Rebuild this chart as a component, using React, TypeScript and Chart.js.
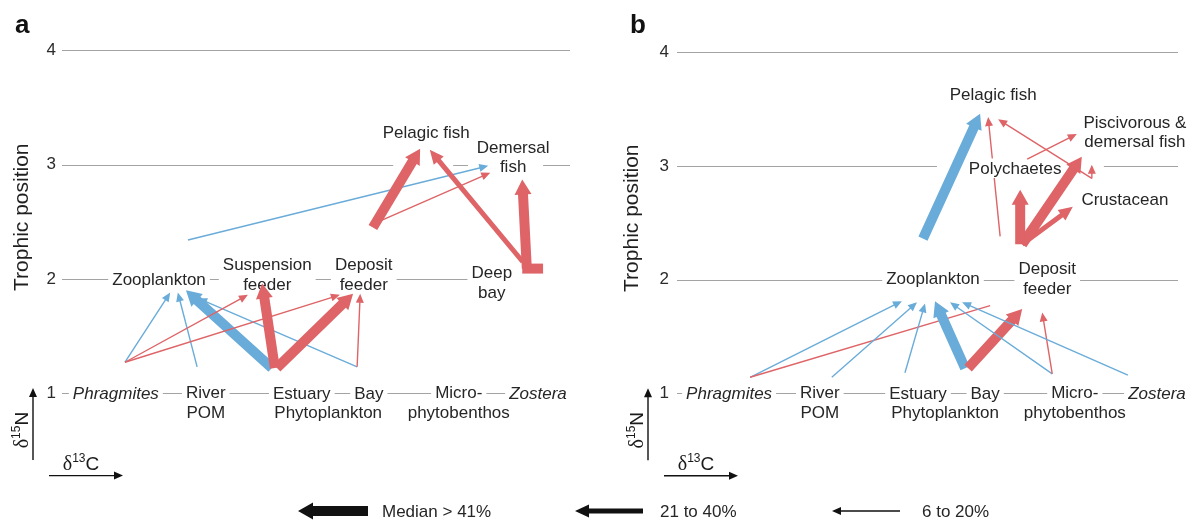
import { useEffect, useRef } from "react";
import { Chart, registerables } from "chart.js";

Chart.register(...registerables);

// ---- food-web values (x: relative δ13C position 0–100, y: trophic position) ----
type Node = { text: string[]; x: number; y: number; italic?: boolean; box?: boolean };
type Flow = {
  from: [number, number];
  to: [number, number];
  share: 1 | 2 | 3; // 1: 6–20 %, 2: 21–40 %, 3: > 41 %
  tone: "b" | "r";
  head?: boolean;
  under?: boolean;
};

const trophicTicks = [1, 2, 3, 4];

const nodesA: Node[] = [
  { text: ["Zooplankton"], x: 19.1, y: 2.0 },
  { text: ["Suspension", "feeder"], x: 40.4, y: 2.04, box: true },
  { text: ["Deposit", "feeder"], x: 59.4, y: 2.04, box: true },
  { text: ["Deep", "bay"], x: 84.6, y: 1.97 },
  { text: ["Pelagic fish"], x: 71.7, y: 3.28 },
  { text: ["Demersal", "fish"], x: 88.8, y: 3.07 },
  { text: ["Phragmites"], x: 10.6, y: 1.0, italic: true },
  { text: ["River", "POM"], x: 28.3, y: 0.92 },
  { text: ["Estuary"], x: 47.2, y: 1.0 },
  { text: ["Bay"], x: 60.4, y: 1.0 },
  { text: ["Phytoplankton"], x: 52.4, y: 0.83 },
  { text: ["Micro-", "phytobenthos"], x: 78.1, y: 0.92 },
  { text: ["Zostera"], x: 93.7, y: 1.0, italic: true },
];

const flowsA: Flow[] = [
  { from: [12.4, 1.27], to: [21.3, 1.88], share: 1, tone: "b" },
  { from: [26.6, 1.23], to: [22.8, 1.88], share: 1, tone: "b" },
  { from: [41.3, 1.22], to: [24.4, 1.9], share: 3, tone: "b" },
  { from: [58.1, 1.23], to: [26.8, 1.83], share: 1, tone: "b" },
  { from: [12.4, 1.27], to: [36.6, 1.86], share: 1, tone: "r" },
  { from: [12.4, 1.27], to: [54.7, 1.86], share: 1, tone: "r" },
  { from: [41.9, 1.22], to: [39.4, 1.96], share: 3, tone: "r" },
  { from: [42.3, 1.22], to: [57.3, 1.87], share: 3, tone: "r" },
  { from: [58.1, 1.23], to: [58.7, 1.87], share: 1, tone: "r" },
  { from: [24.8, 2.34], to: [83.9, 2.99], share: 1, tone: "b" },
  { from: [61.2, 2.45], to: [70.5, 3.14], share: 3, tone: "r" },
  { from: [62.2, 2.5], to: [84.3, 2.93], share: 1, tone: "r" },
  { from: [90.7, 2.15], to: [72.4, 3.13], share: 2, tone: "r" },
  { from: [91.5, 2.09], to: [90.6, 2.87], share: 3, tone: "r" },
  { from: [90.6, 2.09], to: [94.7, 2.09], share: 3, tone: "r", head: false },
];

const nodesB: Node[] = [
  { text: ["Zooplankton"], x: 51.1, y: 2.01 },
  { text: ["Deposit", "feeder"], x: 73.9, y: 2.01, box: true },
  { text: ["Pelagic fish"], x: 63.1, y: 3.63 },
  { text: ["Piscivorous &", "demersal fish"], x: 91.4, y: 3.3 },
  { text: ["Polychaetes"], x: 67.5, y: 2.98 },
  { text: ["Crustacean"], x: 89.4, y: 2.71 },
  { text: ["Phragmites"], x: 10.4, y: 1.0, italic: true },
  { text: ["River", "POM"], x: 28.5, y: 0.92 },
  { text: ["Estuary"], x: 48.1, y: 1.0 },
  { text: ["Bay"], x: 61.5, y: 1.0 },
  { text: ["Phytoplankton"], x: 53.5, y: 0.83 },
  { text: ["Micro-", "phytobenthos"], x: 79.4, y: 0.92 },
  { text: ["Zostera"], x: 95.8, y: 1.0, italic: true },
];

const flowsB: Flow[] = [
  { from: [14.6, 1.14], to: [44.9, 1.81], share: 1, tone: "b" },
  { from: [14.6, 1.14], to: [62.5, 1.77], share: 1, tone: "r", head: false },
  { from: [30.9, 1.14], to: [47.9, 1.8], share: 1, tone: "b" },
  { from: [45.5, 1.18], to: [49.5, 1.79], share: 1, tone: "b" },
  { from: [57.5, 1.22], to: [51.5, 1.81], share: 3, tone: "b" },
  { from: [58.1, 1.22], to: [68.9, 1.74], share: 3, tone: "r" },
  { from: [74.9, 1.17], to: [54.5, 1.8], share: 1, tone: "b" },
  { from: [74.9, 1.17], to: [72.9, 1.71], share: 1, tone: "r" },
  { from: [90.0, 1.16], to: [56.9, 1.8], share: 1, tone: "b" },
  { from: [49.1, 2.36], to: [60.5, 3.46], share: 3, tone: "b" },
  { from: [64.5, 2.38], to: [62.1, 3.43], share: 1, tone: "r", under: true },
  { from: [82.8, 2.89], to: [64.1, 3.41], share: 1, tone: "r" },
  { from: [82.8, 2.89], to: [82.8, 3.01], share: 1, tone: "r" },
  { from: [69.9, 3.06], to: [79.8, 3.28], share: 1, tone: "r" },
  { from: [68.9, 2.31], to: [80.8, 3.08], share: 3, tone: "r" },
  { from: [68.5, 2.31], to: [68.5, 2.79], share: 3, tone: "r" },
  { from: [68.9, 2.31], to: [79.0, 2.64], share: 2, tone: "r" },
];

// trophic guide lines: [level, x start, x end]
const guidesA: [number, number, number][] = [
  [4, 0, 100],
  [3, 0, 65.2],
  [3, 77.0, 79.9],
  [3, 94.7, 100],
  [2, 0, 80.7],
  [1, 0, 100],
];
const guidesB: [number, number, number][] = [
  [4, 0, 100],
  [3, 0, 51.9],
  [3, 85.2, 100],
  [2, 0, 100],
  [1, 0, 100],
];

const legendLabels = ["Median > 41%", "21 to 40%", "6 to 20%"];
const legendShares: (1 | 2 | 3)[] = [3, 2, 1];

// ---- styling ----
const W = 1193;
const H = 522;
const SANS = "'Liberation Sans', Arial, sans-serif";
const SERIF = "'Liberation Serif', 'Times New Roman', serif";
const TONES = { b: "#6aacd9", r: "#de6467" };
const ARROW = {
  1: { w: 1.4, L: 9, H: 4 },
  2: { w: 5, L: 14, H: 6.5 },
  3: { w: 10, L: 15, H: 8.5 },
} as const;
const LABEL_PX = 17;
const LINE_H = 19.5;
const TEXT_COL = "#262626";
const GUIDE_COL = "#a3a3a3";
const Y_MIN = 0.78;
const Y_MAX = 4.3;

function drawArrow(
  ctx: CanvasRenderingContext2D,
  x1: number,
  y1: number,
  x2: number,
  y2: number,
  share: 1 | 2 | 3,
  color: string,
  head = true
) {
  const s = ARROW[share];
  const dx = x2 - x1;
  const dy = y2 - y1;
  const len = Math.hypot(dx, dy);
  if (len === 0) return;
  const ux = dx / len;
  const uy = dy / len;
  const nx = -uy;
  const ny = ux;
  const bl = head ? Math.max(len - s.L, 0) : len;
  const bx = x1 + ux * bl;
  const by = y1 + uy * bl;
  const hw = s.w / 2;
  ctx.fillStyle = color;
  ctx.beginPath();
  ctx.moveTo(x1 + nx * hw, y1 + ny * hw);
  ctx.lineTo(bx + nx * hw, by + ny * hw);
  if (head) {
    ctx.lineTo(bx + nx * s.H, by + ny * s.H);
    ctx.lineTo(x2, y2);
    ctx.lineTo(bx - nx * s.H, by - ny * s.H);
  }
  ctx.lineTo(bx - nx * hw, by - ny * hw);
  ctx.lineTo(x1 - nx * hw, y1 - ny * hw);
  ctx.closePath();
  ctx.fill();
}

// δ-notation text: δ + superscript + element, centred on (0,0)
function drawDelta(ctx: CanvasRenderingContext2D, sup: string, el: string) {
  const f1 = `20px ${SERIF}`;
  const f2 = `12px ${SANS}`;
  const f3 = `19px ${SANS}`;
  ctx.font = f1;
  const w1 = ctx.measureText("δ").width;
  ctx.font = f2;
  const w2 = ctx.measureText(sup).width;
  ctx.font = f3;
  const w3 = ctx.measureText(el).width;
  let x = -(w1 + w2 + w3) / 2;
  ctx.textAlign = "left";
  ctx.textBaseline = "alphabetic";
  ctx.fillStyle = "#1a1a1a";
  ctx.font = f1;
  ctx.fillText("δ", x, 7);
  x += w1;
  ctx.font = f2;
  ctx.fillText(sup, x, -1);
  x += w2;
  ctx.font = f3;
  ctx.fillText(el, x, 7);
}

type PanelSpec = {
  letter: string;
  nodes: Node[];
  flows: Flow[];
  guides: [number, number, number][];
  withLegend: boolean;
};

function panelPlugin(spec: PanelSpec) {
  return {
    id: "foodweb" + spec.letter,
    afterDraw(chart: any) {
      const ctx: CanvasRenderingContext2D = chart.ctx;
      const xs = chart.scales.x;
      const ys = chart.scales.y;
      const px = (v: number) => xs.getPixelForValue(v);
      const py = (v: number) => ys.getPixelForValue(v);
      const area = chart.chartArea;
      ctx.save();

      // guide lines
      ctx.strokeStyle = GUIDE_COL;
      ctx.lineWidth = 1;
      for (const [lvl, a, b] of spec.guides) {
        const y = Math.round(py(lvl)) + 0.5;
        ctx.beginPath();
        ctx.moveTo(px(a), y);
        ctx.lineTo(px(b), y);
        ctx.stroke();
      }

      const drawFlows = (under: boolean) => {
        for (const f of spec.flows) {
          if (!!f.under !== under) continue;
          drawArrow(
            ctx,
            px(f.from[0]),
            py(f.from[1]),
            px(f.to[0]),
            py(f.to[1]),
            f.share,
            TONES[f.tone],
            f.head !== false
          );
        }
      };
      drawFlows(true);

      // node labels on white boxes
      ctx.textAlign = "center";
      ctx.textBaseline = "middle";
      for (const n of spec.nodes) {
        ctx.font = `${n.italic ? "italic " : ""}${LABEL_PX}px ${SANS}`;
        const cx = px(n.x);
        const cy = py(n.y);
        const widths = n.text.map((t) => ctx.measureText(t).width);
        const top = cy - (n.text.length * LINE_H) / 2;
        ctx.fillStyle = "#ffffff";
        if (n.box) {
          const mw = Math.max(...widths) + 8;
          ctx.fillRect(cx - mw / 2, top, mw, n.text.length * LINE_H);
        } else {
          widths.forEach((w, i) => {
            ctx.fillRect(cx - w / 2 - 4, top + i * LINE_H, w + 8, LINE_H);
          });
        }
        ctx.fillStyle = TEXT_COL;
        n.text.forEach((t, i) => {
          ctx.fillText(t, cx, top + (i + 0.5) * LINE_H + 1);
        });
      }

      drawFlows(false);

      // panel letter
      ctx.fillStyle = "#111";
      ctx.font = `bold 26px ${SANS}`;
      ctx.textAlign = "left";
      ctx.textBaseline = "alphabetic";
      ctx.fillText(spec.letter, area.left - 47, 33);

      // isotope direction arrows
      const y1 = py(1);
      const ax = area.left - 29;
      ctx.fillStyle = "#111";
      drawArrow(ctx, ax, y1 + 67, ax, y1 - 5, 1, "#111");
      drawArrow(ctx, area.left - 13, y1 + 82.5, area.left + 61, y1 + 82.5, 1, "#111");
      ctx.save();
      ctx.translate(ax - 12, y1 + 37);
      ctx.rotate(-Math.PI / 2);
      drawDelta(ctx, "15", "N");
      ctx.restore();
      ctx.save();
      ctx.translate(area.left + 19, y1 + 70);
      drawDelta(ctx, "13", "C");
      ctx.restore();

      // contribution legend
      if (spec.withLegend) {
        const ly = 511;
        const tips = [298, 575, 832];
        const tails = [368, 643, 900];
        const textX = [382, 660, 922];
        legendLabels.forEach((lab, i) => {
          drawArrow(ctx, tails[i], ly, tips[i], ly, legendShares[i], "#111");
          ctx.fillStyle = TEXT_COL;
          ctx.font = `17px ${SANS}`;
          ctx.textAlign = "left";
          ctx.textBaseline = "middle";
          ctx.fillText(lab, textX[i], ly + 1);
        });
      }
      ctx.restore();
    },
  };
}

function makeConfig(spec: PanelSpec, padLeft: number, padRight: number, tickPad: number, titlePad: number): any {
  return {
    type: "scatter",
    data: {
      datasets: [
        {
          data: spec.nodes.map((n) => ({ x: n.x, y: n.y })),
          pointRadius: 0,
          showLine: false,
        },
      ],
    },
    options: {
      animation: false,
      responsive: false,
      devicePixelRatio: 1,
      events: [],
      layout: { padding: { left: padLeft, right: padRight, top: 15.7, bottom: 103.8 } },
      plugins: { legend: { display: false }, tooltip: { enabled: false } },
      scales: {
        x: { type: "linear", min: 0, max: 100, display: false },
        y: {
          type: "linear",
          min: Y_MIN,
          max: Y_MAX,
          afterBuildTicks: (s: any) => {
            s.ticks = trophicTicks.map((v) => ({ value: v }));
          },
          afterFit: (s: any) => {
            s.width = 62;
          },
          grid: { display: false, drawTicks: false },
          border: { display: false },
          ticks: {
            color: "#2b2b2b",
            padding: tickPad,
            font: { family: SANS, size: 17 },
          },
          title: {
            display: true,
            text: "Trophic position",
            color: "#1f1f1f",
            font: { family: SANS, size: 21 },
            padding: { top: titlePad, bottom: 0 },
          },
        },
      },
    },
    plugins: [panelPlugin(spec)],
  };
}

export default function App() {
  const refA = useRef<HTMLCanvasElement>(null);
  const refB = useRef<HTMLCanvasElement>(null);

  useEffect(() => {
    const specA: PanelSpec = { letter: "a", nodes: nodesA, flows: flowsA, guides: guidesA, withLegend: true };
    const specB: PanelSpec = { letter: "b", nodes: nodesB, flows: flowsB, guides: guidesB, withLegend: false };
    const a = new Chart(refA.current!, makeConfig(specA, 0, W - 570, 6, 9.4));
    const b = new Chart(refB.current!, makeConfig(specB, 615, W - 1178, 8, 4.4));
    return () => {
      a.destroy();
      b.destroy();
    };
  }, []);

  const canvasStyle: any = { position: "absolute", left: 0, top: 0, width: W, height: H };
  return (
    <div style={{ position: "fixed", left: 0, top: 0, width: W, height: H, background: "#ffffff" }}>
      <canvas ref={refA} width={W} height={H} style={canvasStyle} />
      <canvas ref={refB} width={W} height={H} style={canvasStyle} />
    </div>
  );
}
